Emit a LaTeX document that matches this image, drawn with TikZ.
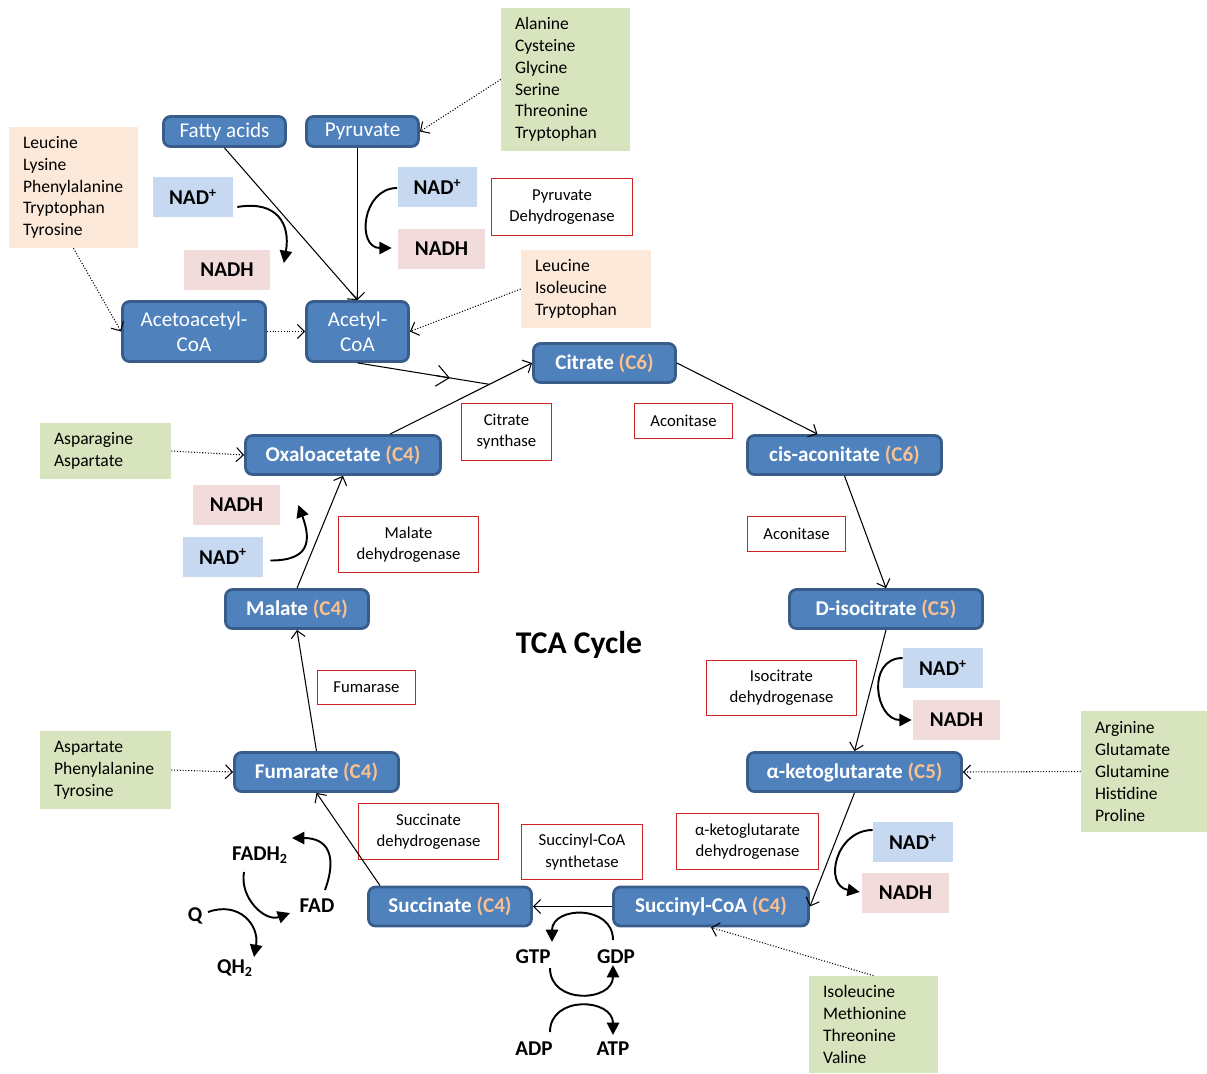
\documentclass[tikz,border=0pt]{standalone}
\usepackage{fontspec}
\setmainfont{Carlito}
\usepackage{xcolor}
\usetikzlibrary{arrows.meta,calc}

\definecolor{cycfill}{HTML}{4F81BD}
\definecolor{cycline}{HTML}{385D8A}
\definecolor{cnumcol}{HTML}{FAC090}
\definecolor{nadfill}{HTML}{C6D9F1}
\definecolor{nadhfill}{HTML}{F2DCDB}
\definecolor{aagreen}{HTML}{D7E4BD}
\definecolor{aapeach}{HTML}{FDE9D9}
\definecolor{enzred}{HTML}{D02525}

\newcommand{\cnum}[1]{\textcolor{cnumcol}{#1}}

\begin{document}
\begin{tikzpicture}[x=0.02cm,y=-0.02cm,
  met/.style={draw=cycline,line width=1.6pt,fill=cycfill,rounded corners=4pt,text=white,
    font=\fontsize{12}{14}\selectfont,minimum height=0.6cm,align=center,inner sep=0pt},
  cyc/.style={met,font=\fontsize{12}{14}\selectfont\bfseries,minimum height=0.78cm},
  nad/.style={fill=nadfill,font=\fontsize{12}{14}\selectfont\bfseries,minimum width=1.6cm,minimum height=0.8cm,inner sep=0pt},
  nadh/.style={fill=nadhfill,font=\fontsize{12}{14}\selectfont\bfseries,minimum width=1.74cm,minimum height=0.8cm,inner sep=0pt},
  enz/.style={draw=enzred,line width=0.7pt,fill=white,font=\fontsize{9.5}{12}\selectfont,align=center,inner sep=0pt},
  aalist/.style={font=\fontsize{10}{12.4}\selectfont,align=left,inner xsep=0.28cm,inner ysep=0pt},
  small/.style={font=\fontsize{12}{14}\selectfont\bfseries},
  conv/.style={-{Straight Barb[length=4pt,width=8pt]},line width=0.6pt},
  feed/.style={conv,densely dotted},
  cofac/.style={-{Triangle[length=7pt,width=7pt]},line width=1.1pt}
]
\useasboundingbox (0,0) rectangle (1207,1073);

% feeder metabolites
\node[met,minimum width=2.44cm] (fatty) at (224.5,131.5) {Fatty acids};
\node[met,minimum width=2.24cm] (pyr) at (362.5,131.5) {Pyruvate};
\node[met,minimum width=2.86cm,minimum height=1.2cm] (aceto) at (194,331.5) {Acetoacetyl-\\CoA};
\node[met,minimum width=2.04cm,minimum height=1.2cm] (acetyl) at (357.5,331.5) {Acetyl-\\CoA};

% cycle
\node[cyc,minimum width=2.84cm] (cit) at (604.5,363) {Citrate \cnum{(C6)}};
\node[cyc,minimum width=3.88cm] (cis) at (844.5,455) {cis-aconitate \cnum{(C6)}};
\node[cyc,minimum width=3.86cm] (iso) at (886,609) {D-isocitrate \cnum{(C5)}};
\node[cyc,minimum width=4.28cm] (akg) at (854.5,772) {α-ketoglutarate \cnum{(C5)}};
\node[cyc,minimum width=3.9cm] (succoa) at (711,906.5) {Succinyl-CoA \cnum{(C4)}};
\node[cyc,minimum width=3.26cm] (succ) at (450,906.5) {Succinate \cnum{(C4)}};
\node[cyc,minimum width=3.28cm] (fum) at (316.5,772) {Fumarate \cnum{(C4)}};
\node[cyc,minimum width=2.86cm] (mal) at (297,609) {Malate \cnum{(C4)}};
\node[cyc,minimum width=3.9cm] (oxa) at (343,455) {Oxaloacetate \cnum{(C4)}};

\node[font=\fontsize{18}{22}\selectfont\bfseries] (title) at (579,645) {TCA Cycle};

% cofactors
\node[nad] (nadA) at (193,197) {NAD\textsuperscript{+}};
\node[nadh] (nadhA) at (227,270) {NADH};
\node[nad] (nadB) at (437.5,187) {NAD\textsuperscript{+}};
\node[nadh] (nadhB) at (441.5,249) {NADH};
\node[nad] (nadC) at (223,556.5) {NAD\textsuperscript{+}};
\node[nadh] (nadhC) at (236.5,505) {NADH};
\node[nad] (nadD) at (943,668) {NAD\textsuperscript{+}};
\node[nadh] (nadhD) at (956.5,720) {NADH};
\node[nad] (nadE) at (913,842) {NAD\textsuperscript{+}};
\node[nadh] (nadhE) at (905.5,893) {NADH};

\node[small] (fadh) at (260,855) {FADH\textsubscript{2}};
\node[small] (fad) at (317,906) {FAD};
\node[small] (q) at (195,916) {Q};
\node[small] (qh) at (235,968) {QH\textsubscript{2}};
\node[small] (gtp) at (533,957) {GTP};
\node[small] (gdp) at (616,957) {GDP};
\node[small] (adp) at (534,1049) {ADP};
\node[small] (atp) at (613,1049) {ATP};

% enzymes
\node[enz,minimum width=2.82cm,minimum height=1.14cm] (pdh) at (562,207) {Pyruvate\\Dehydrogenase};
\node[enz,minimum width=1.8cm,minimum height=1.14cm] (cs) at (506.5,432) {Citrate\\synthase};
\node[enz,minimum width=1.96cm,minimum height=0.7cm] (aconA) at (683.5,421) {Aconitase};
\node[enz,minimum width=1.96cm,minimum height=0.7cm] (aconB) at (796.5,534) {Aconitase};
\node[enz,minimum width=2.8cm,minimum height=1.12cm] (mdh) at (408.5,544.5) {Malate\\dehydrogenase};
\node[enz,minimum width=1.96cm,minimum height=0.68cm] (fumase) at (366.5,687.5) {Fumarase};
\node[enz,minimum width=3cm,minimum height=1.1cm] (idh) at (781.5,688) {Isocitrate\\dehydrogenase};
\node[enz,minimum width=2.8cm,minimum height=1.12cm] (sdh) at (428.5,831.5) {Succinate\\dehydrogenase};
\node[enz,minimum width=2.42cm,minimum height=1.1cm] (scs) at (582,852) {Succinyl-CoA\\synthetase};
\node[enz,minimum width=2.84cm,minimum height=1.12cm] (kgdh) at (747.5,841.5) {α-ketoglutarate\\dehydrogenase};

% amino acids
\node[aalist,fill=aagreen,text width=2.02cm,minimum height=2.86cm] (aaPyr) at (565.5,79.5) {Alanine\\Cysteine\\Glycine\\Serine\\Threonine\\Tryptophan};
\node[aalist,fill=aapeach,text width=2.02cm,minimum height=2.42cm] (aaAceto) at (73.5,187.5) {Leucine\\Lysine\\Phenylalanine\\Tryptophan\\Tyrosine};
\node[aalist,fill=aapeach,text width=2.04cm,minimum height=1.56cm] (aaAcetyl) at (586,289) {Leucine\\Isoleucine\\Tryptophan};
\node[aalist,fill=aagreen,text width=2.06cm,minimum height=1.12cm] (aaOxa) at (105.5,451) {Asparagine\\Aspartate};
\node[aalist,fill=aagreen,text width=2.06cm,minimum height=1.56cm] (aaFum) at (105.5,770) {Aspartate\\Phenylalanine\\Tyrosine};
\node[aalist,fill=aagreen,text width=1.96cm,minimum height=2.42cm] (aaKg) at (1144,771.5) {Arginine\\Glutamate\\Glutamine\\Histidine\\Proline};
\node[aalist,fill=aagreen,text width=2.02cm,minimum height=1.94cm] (aaSucc) at (873.5,1024.5) {Isoleucine\\Methionine\\Threonine\\Valine};

% into acetyl-CoA
\draw[conv] (fatty.south) -- (acetyl.north);
\draw[conv] (pyr.south -| acetyl.north) -- (acetyl.north);
\draw[feed] (aaPyr.west) -- (pyr.east);
\draw[feed] (aaAceto.south) -- (aceto.west);
\draw[feed] (aceto.east) -- (acetyl.west);
\draw[feed] (aaAcetyl.west) -- (acetyl.east);

% the cycle
\coordinate (oxaout) at ([xshift=0.94cm]oxa.north);
\coordinate (join) at ($(oxaout)!0.7!(cit.west)$);
\draw[line width=0.6pt,-{Straight Barb[length=7pt,width=12pt]}] (acetyl.south) -- ($(acetyl.south)!0.7!(join)$);
\draw[line width=0.6pt] ($(acetyl.south)!0.6!(join)$) -- (join);
\draw[conv] (oxaout) -- (cit.west);
\draw[conv] (cit.east) -- ([xshift=-0.54cm]cis.north);
\draw[conv] (cis.south) -- (iso.north);
\draw[conv] (iso.south) -- (akg.north);
\draw[conv] (akg.south) -- (succoa.east);
\draw[conv] (succoa.west) -- (succ.east);
\draw[conv] ([xshift=-1.4cm]succ.north) -- (fum.south);
\draw[conv] (fum.north) -- (mal.south);
\draw[conv] (mal.north) -- (oxa.south);

\draw[feed] (aaOxa.east) -- (oxa.west);
\draw[feed] (aaFum.east) -- (fum.west);
\draw[feed] (aaKg.west) -- (akg.east);
\draw[feed] (aaSucc.north) -- (succoa.south);

% NAD+ -> NADH
\draw[cofac] ([shift={(4,10)}]nadA.east) to[out=10,in=80,looseness=1.4] ([shift={(13,-7)}]nadhA.east);
\draw[cofac] ([shift={(0,1)}]nadB.west) to[out=180,in=180,looseness=1.5] ([shift={(-6,-1)}]nadhB.west);
\draw[cofac] ([shift={(7,4)}]nadC.east) to[out=0,in=-70,looseness=1.6] ([shift={(18,0)}]nadhC.east);
\draw[cofac] ([shift={(0,-10)}]nadD.west) to[out=180,in=180,looseness=1.5] ([shift={(-1,0)}]nadhD.west);
\draw[cofac] ([shift={(0,-12)}]nadE.west) to[out=180,in=170,looseness=1.5] ([shift={(-2,-1)}]nadhE.west);

% FAD and Q
\draw[cofac] ([shift={(8,-16)}]fad.center) to[out=70,in=0,looseness=1.5] ([shift={(32,-17)}]fadh.center);
\draw[cofac] ([shift={(-16,17)}]fadh.center) to[out=-100,in=200,looseness=1.1] ([shift={(-27,7)}]fad.center);
\draw[cofac] ([shift={(13,-4)}]q.center) to[out=20,in=80,looseness=1.3] ([shift={(19,-11)}]qh.center);

% GTP and ATP
\draw[cofac] ([shift={(-3,-17)}]gdp.center) to[out=90,in=90,looseness=1.5] ([shift={(19,-15)}]gtp.center);
\draw[cofac] ([shift={(17,11)}]gtp.center) to[out=-90,in=-90,looseness=1.5] ([shift={(-3,8)}]gdp.center);
\draw[cofac] ([shift={(16,-17)}]adp.center) to[out=90,in=90,looseness=1.5] ([shift={(0,-14)}]atp.center);
\end{tikzpicture}
\end{document}
